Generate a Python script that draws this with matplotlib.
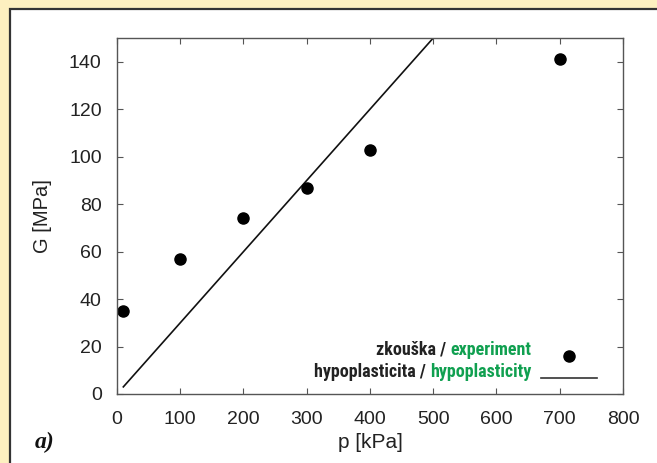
import matplotlib
matplotlib.use('Agg')
import matplotlib.pyplot as plt
from matplotlib.patches import Rectangle
from matplotlib import font_manager

plt.rcParams.update({
    'font.family': 'sans-serif',
    'font.sans-serif': ['Liberation Sans', 'DejaVu Sans'],
    'font.size': 14,
})

# experiment (zkouška)
p_exp = [10, 100, 200, 300, 400, 700]
G_exp = [35, 57, 74, 87, 103, 141]

# hypoplasticity model
p_hyp = [10, 500]
G_hyp = [3, 150]

GREEN = '#10A050'

names = {f.name for f in font_manager.fontManager.ttflist}
narrow = [n for n in ['Liberation Sans Narrow', 'Roboto Condensed', 'DejaVu Sans Condensed']
          if n in names]
leg_family = narrow[0] if narrow else 'Liberation Sans'
leg_size = 13 if narrow else 10

fig = plt.figure(figsize=(6.57, 4.63), dpi=100)
fig.patch.set_facecolor('#FDF0C0')
fig.patches.append(Rectangle((10 / 657, -0.01), 1.0, 1 - 9 / 463 + 0.01,
                             transform=fig.transFigure, facecolor='white',
                             edgecolor='#333333', linewidth=1.6, zorder=-5))

ax = fig.add_axes([117 / 657, 1 - 394 / 463, (623 - 117) / 657, (394 - 38) / 463])
ax.set_facecolor('white')

ax.plot(p_hyp, G_hyp, color='#111111', lw=1.2)
ax.plot(p_exp, G_exp, 'o', color='black', ms=8, clip_on=False)

ax.set_xlim(0, 800)
ax.set_ylim(0, 150)
ax.set_xticks(range(0, 801, 100))
ax.set_yticks(range(0, 141, 20))
ax.tick_params(direction='in', top=True, right=True, length=4,
               width=0.8, color='#555555', labelcolor='#222222', labelsize=14)
ax.tick_params(axis='x', pad=12)
ax.tick_params(axis='y', pad=11)
for s in ax.spines.values():
    s.set_color('#555555')
    s.set_linewidth(1.0)

ax.set_xlabel('p [kPa]', color='#222222', labelpad=4, fontsize=15)
ax.set_ylabel('G [MPa]', color='#222222', labelpad=12, fontsize=14.5)

# legend drawn by hand: black Czech text + green English text
fig.canvas.draw()
r = fig.canvas.get_renderer()
rows = [(('zkouška / ', 'experiment'), 350 / 463), (('hypoplasticita / ', 'hypoplasticity'), 372 / 463)]
for (cz, en), yy in rows:
    y_fig = 1 - yy
    t_en = fig.text(531 / 657, y_fig, en, color=GREEN, ha='right', va='center',
                    fontsize=leg_size, fontweight='bold', family=leg_family)
    bb = t_en.get_window_extent(r)
    fig.text(bb.x0 / fig.bbox.width, y_fig, cz, color='#222222', ha='right', va='center',
             fontsize=leg_size, fontweight='bold', family=leg_family)

fig.lines.append(plt.Line2D([569 / 657], [1 - 356 / 463], marker='o', color='black',
                            ms=8, transform=fig.transFigure))
fig.lines.append(plt.Line2D([541 / 657, 597 / 657], [1 - 378 / 463, 1 - 378 / 463],
                            color='#333333', lw=1.2, transform=fig.transFigure))

fig.text(35 / 657, 1 - 442 / 463, 'a)', fontsize=17, fontweight='bold', fontstyle='italic',
         family='Liberation Serif', ha='left', va='center', color='#111111')

fig.savefig('out.png', dpi=100, facecolor=fig.get_facecolor())
